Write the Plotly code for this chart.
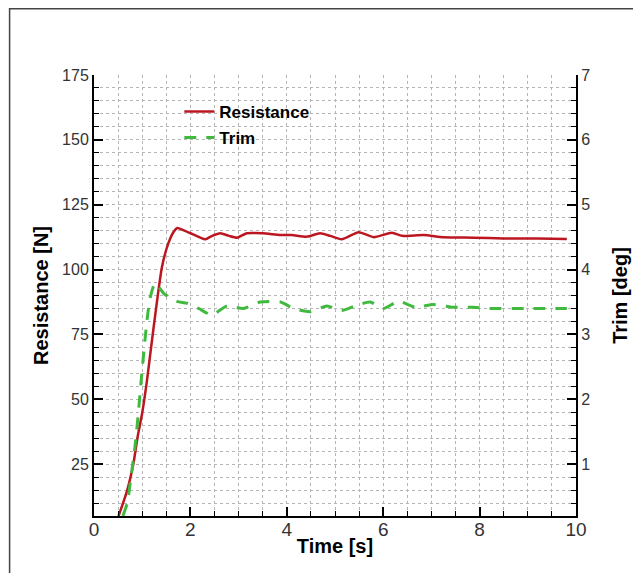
import plotly.graph_objects as go

# Resistance data (time [s], resistance [N])
time_res = [0.51, 0.69, 0.82, 0.90, 1.00, 1.10, 1.23, 1.41, 1.54, 1.65, 1.73, 1.85, 2.0, 2.15,
            2.31, 2.45, 2.62, 2.8, 2.97, 3.17, 3.5, 3.87, 4.1, 4.42, 4.69, 4.9, 5.14, 5.49,
            5.8, 6.18, 6.39, 6.84, 7.25, 7.87, 8.5, 9.2, 9.81]
resistance = [5, 15, 25.4, 35, 44.7, 57.4, 76.7, 101, 110, 114.5, 116, 115.2, 114, 112.8,
              111.7, 113, 114, 113, 112.3, 114, 114, 113.3, 113.3, 112.7, 114, 113, 111.7, 114.4,
              112.5, 114.2, 113, 113.3, 112.5, 112.3, 112, 112, 111.8]

# Trim data (time [s], trim [deg])
time_trim = [0.6, 0.69, 0.76, 0.85, 0.92, 0.98, 1.10, 1.17, 1.27, 1.45, 1.72, 1.93, 2.17,
             2.45, 2.76, 3.1, 3.45, 3.87, 4.14, 4.49, 4.83, 5.14, 5.45, 5.73, 6.0, 6.32,
             6.66, 7.04, 7.42, 7.87, 8.2, 9.0, 9.81]
trim = [0.2, 0.4, 0.755, 1.27, 1.79, 2.3, 3.22, 3.58, 3.79, 3.63, 3.51, 3.48, 3.40,
        3.30, 3.44, 3.40, 3.50, 3.50, 3.40, 3.35, 3.44, 3.37, 3.45, 3.50, 3.40, 3.51,
        3.42, 3.46, 3.42, 3.42, 3.40, 3.40, 3.40]

x_ticks = [0, 2, 4, 6, 8, 10]
y_left_ticks = [25, 50, 75, 100, 125, 150, 175]
y_right_ticks = [1, 2, 3, 4, 5, 6, 7]

RED = "#BC1720"
GREEN = "#3FBA3F"
FAM = "Liberation Sans, Arial, sans-serif"
YTICKFONT = dict(family=FAM, size=16, color="#333333")
XTICKFONT = dict(family=FAM, size=19, color="#333333")
TITLEFONT = dict(family=FAM, size=20, color="black", weight="bold")

fig = go.Figure()
fig.add_trace(go.Scatter(x=time_res, y=resistance, mode="lines", name="Resistance",
                         legendgroup="r",
                         line=dict(color=RED, width=2.5, shape="spline", smoothing=0.6)))
fig.add_trace(go.Scatter(x=time_trim, y=trim, mode="lines", name="Trim", yaxis="y2",
                         legendgroup="t",
                         line=dict(color=GREEN, width=3, dash="12px,10px", shape="spline", smoothing=0.6)))

grid = dict(showgrid=True, gridcolor="#b5b5b5", gridwidth=1, griddash="dot")

# The page body has an 8px default margin; margins compensate for it.
fig.update_layout(
    width=641, height=573,
    margin=dict(l=85.5, r=73, t=67, b=65),
    paper_bgcolor="white", plot_bgcolor="white",
    showlegend=True,
    legend=dict(x=0.177, y=0.957, xanchor="left", yanchor="top",
                bgcolor="rgba(0,0,0,0)", tracegroupgap=1, traceorder="grouped",
                font=dict(family=FAM, size=17, color="black", weight="bold")),
    xaxis=dict(range=[0, 10], tickvals=x_ticks, ticks="inside", ticklen=9, tickwidth=2,
               tickcolor="black", showline=True, linecolor="black", linewidth=2,
               tickfont=XTICKFONT, zeroline=False, ticklabelstandoff=-5,
               title=dict(text="Time [s]", font=TITLEFONT, standoff=0),
               minor=dict(dtick=0.5, ticks="inside", ticklen=5, tickwidth=1, tickcolor="black", **grid),
               **grid),
    yaxis=dict(range=[5, 175], tickvals=y_left_ticks, ticks="inside", ticklen=9, tickwidth=2,
               tickcolor="black", showline=True, linecolor="black", linewidth=2,
               tickfont=YTICKFONT, zeroline=False,
               title=dict(text="Resistance [N]", font=TITLEFONT, standoff=8),
               minor=dict(dtick=5, tick0=0, ticks="inside", ticklen=5, tickwidth=1, tickcolor="black", **grid),
               **grid),
    yaxis2=dict(range=[0.2, 7], tickvals=y_right_ticks, overlaying="y", side="right",
                ticks="inside", ticklen=9, tickwidth=2, tickcolor="black",
                showline=True, linecolor="black", linewidth=2, tickfont=YTICKFONT,
                zeroline=False, showgrid=False,
                title=dict(text="Trim [deg]", font=TITLEFONT, standoff=24),
                minor=dict(dtick=0.2, tick0=0, ticks="inside", ticklen=5, tickwidth=1, tickcolor="black",
                           showgrid=False)),
    shapes=[dict(type="rect", xref="paper", yref="paper",
                 x0=(1 - 85.5) / 482.5, x1=2.0, y0=-1.0, y1=(508 - 0.75) / 441,
                 line=dict(color="#444444", width=1.5), fillcolor="rgba(0,0,0,0)", layer="below")],
)

fig.write_html("out.html")
